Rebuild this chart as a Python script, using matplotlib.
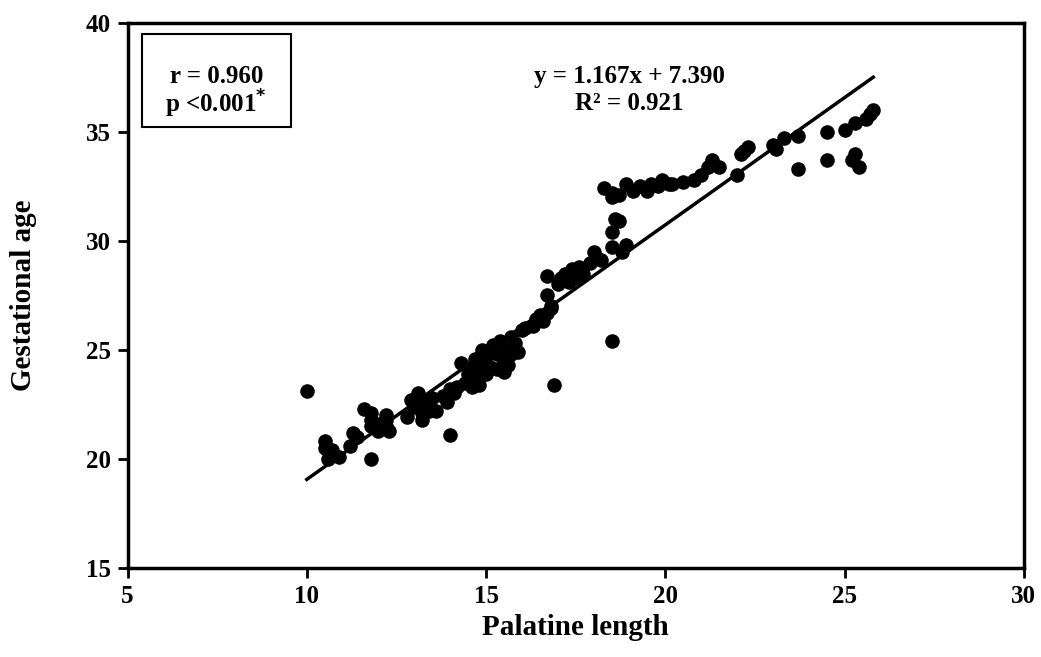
import matplotlib
matplotlib.use("Agg")
import matplotlib.pyplot as plt
import numpy as np
from matplotlib.patches import Rectangle

palatine_length = [
    10.0, 10.5, 10.5, 10.6, 10.7, 10.9, 11.2, 11.3, 11.4, 11.6, 11.8, 11.8, 11.8, 11.8,
    12.0, 12.0, 12.1, 12.2, 12.2, 12.3, 12.2,
    12.8, 12.9, 13.0, 13.1, 13.2, 13.2, 13.3, 13.4, 13.5, 13.6, 13.8, 13.9, 14.0, 14.0,
    14.1, 14.2, 14.3, 14.4, 14.5, 14.6, 14.6, 14.7, 14.7, 14.8, 14.8, 14.9, 14.9, 15.0,
    15.0, 15.1, 15.2, 15.3, 15.3, 15.4, 15.5, 15.5, 15.6, 15.6, 15.7, 15.7, 15.8, 15.9,
    16.0, 16.1, 16.3, 16.4, 16.5, 16.6, 16.7, 16.7, 16.7, 16.8, 16.8, 16.9, 17.0, 17.1,
    17.2, 17.3, 17.4, 17.5, 17.6, 17.7, 17.9, 18.0, 18.1, 18.2, 18.3, 18.5, 18.5, 18.5,
    18.5, 18.5, 18.6, 18.7, 18.7, 18.8, 18.9, 18.9, 19.1, 19.3, 19.5, 19.6, 19.8, 19.9,
    20.1, 20.2, 20.5, 20.8, 21.0, 21.2, 21.3, 21.5, 22.0, 22.1, 22.2, 22.3, 23.0, 23.1,
    23.3, 23.7, 23.7, 24.5, 24.5, 25.0, 25.2, 25.3, 25.3, 25.4, 25.6, 25.8, 25.7,
]
gestational_age = [
    23.1, 20.8, 20.5, 20.0, 20.4, 20.1, 20.6, 21.2, 21.0, 22.3, 21.5, 21.8, 22.1, 20.0,
    21.3, 21.6, 21.4, 22.0, 21.8, 21.3, 21.5,
    21.9, 22.7, 22.4, 23.0, 21.8, 22.1, 22.5, 22.2, 22.8, 22.2, 22.9, 22.6, 21.1, 23.2,
    23.0, 23.3, 24.4, 23.5, 23.9, 24.2, 23.3, 24.6, 23.8, 24.1, 23.4, 25.0, 24.4, 24.7,
    23.9, 24.2, 25.2, 24.8, 24.1, 25.4, 24.5, 24.0, 25.0, 24.3, 25.6, 24.8, 25.3, 24.9,
    25.9, 26.0, 26.1, 26.4, 26.6, 26.3, 26.7, 27.5, 28.4, 26.9, 27.0, 23.4, 28.0, 28.3,
    28.5, 28.1, 28.7, 28.3, 28.8, 28.5, 29.0, 29.5, 29.2, 29.1, 32.4, 32.0, 32.2, 30.4,
    29.7, 25.4, 31.0, 30.9, 32.1, 29.5, 29.8, 32.6, 32.3, 32.5, 32.3, 32.6, 32.5, 32.8,
    32.6, 32.6, 32.7, 32.8, 33.0, 33.4, 33.7, 33.4, 33.0, 34.0, 34.1, 34.3, 34.4, 34.2,
    34.7, 34.8, 33.3, 35.0, 33.7, 35.1, 33.7, 34.0, 35.4, 33.4, 35.6, 36.0, 35.8,
]
slope = 1.167
intercept = 7.390
x_ticks = [5, 10, 15, 20, 25, 30]
y_ticks = [15, 20, 25, 30, 35, 40]

plt.rcParams['font.family'] = ['Liberation Serif', 'DejaVu Serif']
plt.rcParams['font.weight'] = 'bold'

fig = plt.figure(figsize=(10.41, 6.57), dpi=100)
ax = fig.add_axes([0.1225, 0.1355, 0.861, 0.830])

ax.scatter(palatine_length, gestational_age, s=110, color='black', zorder=3, linewidths=0)
xl = np.array([min(palatine_length), max(palatine_length)])
ax.plot(xl, slope * xl + intercept, color='black', lw=2.5, zorder=2)

ax.set_xlim(5, 30)
ax.set_ylim(15, 40)
ax.set_xticks(x_ticks)
ax.set_yticks(y_ticks)
ax.tick_params(direction='out', length=7, width=2, labelsize=18, pad=5)
for lab in ax.get_xticklabels() + ax.get_yticklabels():
    lab.set_fontweight('bold')
for sp in ax.spines.values():
    sp.set_linewidth(2.5)

ax.set_xlabel('Palatine length', fontsize=21, fontweight='bold')
ax.set_ylabel('Gestational age', fontsize=21, fontweight='bold')
ax.xaxis.set_label_coords(0.5, -0.085)
ax.yaxis.set_label_coords(-0.101, 0.5)

ax.text(0.56, 0.902, 'y = 1.167x + 7.390', transform=ax.transAxes, ha='center', va='center',
        fontsize=18, fontweight='bold')
ax.text(0.56, 0.851, 'R² = 0.921', transform=ax.transAxes, ha='center', va='center',
        fontsize=18, fontweight='bold')

ax.add_patch(Rectangle((0.016, 0.808), 0.166, 0.172, transform=ax.transAxes,
                       fill=False, edgecolor='black', lw=1.5, zorder=4))
ax.text(0.099, 0.902, 'r = 0.960', transform=ax.transAxes, ha='center', va='center',
        fontsize=18, fontweight='bold')
ax.text(0.099, 0.851, r'p <0.001$^{\mathbf{*}}$', transform=ax.transAxes, ha='center', va='center',
        fontsize=18, fontweight='bold')

fig.savefig('out.png', dpi=100)
